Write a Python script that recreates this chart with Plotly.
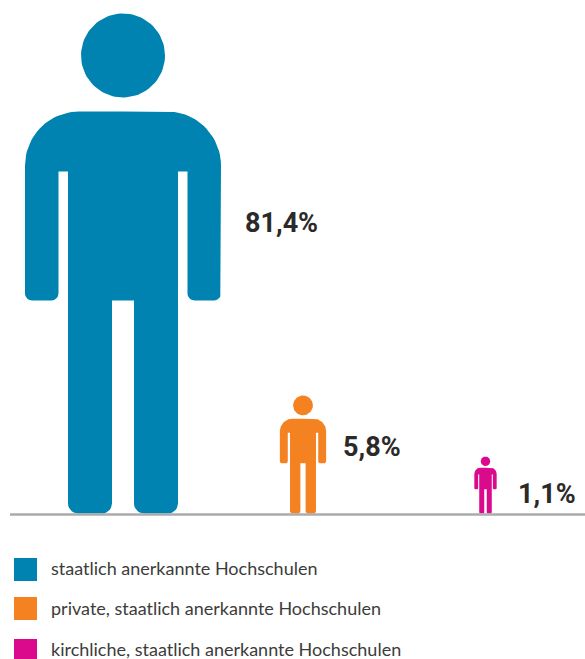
import numpy as np
import plotly.graph_objects as go

categories = ['staatlich anerkannte Hochschulen',
              'private, staatlich anerkannte Hochschulen',
              'kirchliche, staatlich anerkannte Hochschulen']
values = [81.4, 5.8, 1.1]
value_labels = ['81,4%', '5,8%', '1,1%']
colors = ['#0083B0', '#F58220', '#DB0A8C']

# pixel layout of the page
WIDTH, HEIGHT = 585, 659
BASELINE = 513.5
person_x = [123, 303, 485.5]
person_h = [500, 118, 57]
label_pos = [(242.5, 223), (340.5, 447), (515.5, 494)]
legend_y = [569.5, 608.5, 650.5]
legend_text_y = [568, 608, 649]


def arc(cx, cy, r, a0, a1, n=16):
    t = np.radians(np.linspace(a0, a1, n))
    return list(cx + r * np.cos(t)), list(cy + r * np.sin(t))


def person_outline():
    # one person, height 1, feet at y=0, centred on x=0 (right half, then mirrored)
    px, py = [], []
    def add(p):
        px.extend(p[0])
        py.extend(p[1])
    add(([0], [0.804]))
    add(arc(0.088, 0.696, 0.108, 90, 0, 24))      # shoulder
    add(arc(0.182, 0.440, 0.014, 0, -90, 8))      # hand
    add(arc(0.143, 0.440, 0.014, -90, -180, 8))
    add(([0.129, 0.110], [0.684, 0.684]))         # armpit
    add(arc(0.090, 0.020, 0.020, 0, -90, 8))      # foot
    add(arc(0.042, 0.020, 0.020, -90, -180, 8))
    add(([0.022, 0], [0.426, 0.426]))             # crotch
    x = np.array(px)
    y = np.array(py)
    return np.concatenate([x, -x[::-1]]), np.concatenate([y, y[::-1]])


body_x, body_y = person_outline()
head_x, head_y = arc(0, 0.916, 0.084, 0, 360, 90)

fig = go.Figure()

for i, cat in enumerate(categories):
    h = person_h[i]
    xs = list(person_x[i] + h * body_x) + [None] + list(person_x[i] + h * np.array(head_x))
    ys = list(BASELINE - h * body_y) + [None] + list(BASELINE - h * np.array(head_y))
    fig.add_trace(go.Scatter(x=xs, y=ys, mode='lines', fill='toself', fillcolor=colors[i],
                             line=dict(width=0, color=colors[i]), name=cat,
                             hoverinfo='skip', showlegend=False))

# legend squares
fig.add_trace(go.Scatter(x=[25.5] * 3, y=legend_y, mode='markers',
                         marker=dict(symbol='square', size=23, color=colors, line=dict(width=0)),
                         hoverinfo='skip', showlegend=False))

# baseline
fig.add_shape(type='line', x0=10, x1=585, y0=514.5, y1=514.5,
              line=dict(color='#ABABAD', width=2.5))

for (x, y), label in zip(label_pos, value_labels):
    fig.add_annotation(x=x, y=y, text=label, showarrow=False, xanchor='left', yanchor='middle',
                       font=dict(family='Roboto', size=27, color='#2B2A29', weight='bold'))

for y, cat in zip(legend_text_y, categories):
    fig.add_annotation(x=49, y=y, text=cat, showarrow=False, xanchor='left', yanchor='middle',
                       font=dict(family='Lato', size=18, color='#3C3C3B'))

fig.update_layout(
    width=WIDTH, height=HEIGHT,
    margin=dict(l=0, r=0, t=0, b=0),
    paper_bgcolor='white', plot_bgcolor='white',
    showlegend=False,
    xaxis=dict(range=[0, WIDTH], visible=False, fixedrange=True),
    yaxis=dict(range=[HEIGHT, 0], visible=False, fixedrange=True),
)

fig.write_html("out.html", post_script="document.body.style.margin='0'", config={'displayModeBar': False})
